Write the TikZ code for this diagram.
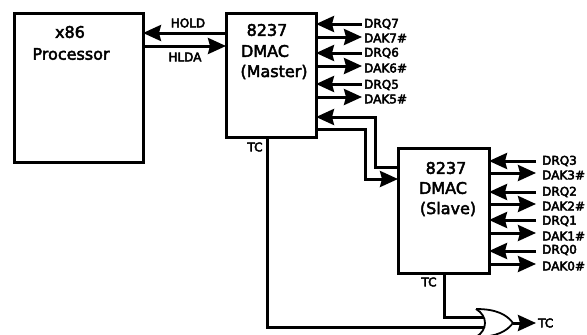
\documentclass[tikz,border=0pt]{standalone}
\usepackage{fontspec}
\setmainfont{DejaVu Sans}
\usetikzlibrary{arrows.meta}
\newcommand{\heavy}[1]{\special{pdf:code 2 Tr 0.45 w}#1\special{pdf:code 0 Tr}}
\tikzset{
  x=1pt,y=-1pt,
  blk/.style={draw=black,line width=3pt,fill=white},
  sig/.style={line width=3pt,-{Stealth[length=18pt,width=16pt,inset=2pt]}},
  wire/.style={line width=3pt},
  big/.style={font=\fontsize{16}{16}\selectfont,inner sep=0},
  small/.style={font=\fontsize{12}{12}\selectfont,inner sep=0,anchor=west},
  mid/.style={font=\fontsize{12}{12}\selectfont,inner sep=0},
}
\begin{document}
\begin{tikzpicture}
\useasboundingbox (0,0) rectangle (587,335);
% boxes
\draw[blk] (14,13) rectangle (143,162);
\draw[blk] (226,13) rectangle (316,137);
\draw[blk] (398,148) rectangle (489,273);
\coordinate (pH) at (143,33); \coordinate (mH) at (226,33);
\coordinate (pL) at (143,46); \coordinate (mL) at (226,46);
% box texts
\node[big] (t1) at (70,32) {\heavy{x86}};
\node[big] (t2) at (71,54) {\heavy{Processor}};
\node[big] (t3) at (267,30) {\heavy{8237}};
\node[big] (t4) at (265,51) {\heavy{DMAC}};
\node[big] (t5) at (274,72) {\heavy{(Master)}};
\node[big] (t6) at (446,168) {\heavy{8237}};
\node[big] (t7) at (443,188) {\heavy{DMAC}};
\node[big] (t8) at (448,209) {\heavy{(Slave)}};
% hold / hlda
\draw[sig] (mH) -- (pH);
\draw[sig] (pL) -- (mL);
\node[mid] (hold) at (188,23) {\heavy{HOLD}};
\node[mid] (hlda) at (185,57) {\heavy{HLDA}};
% master signals
\foreach \n/\y/\d/\q/\a/\qy/\ay in {7/24/37/DRQ7/DAK7\#/24/38,6/53/66/DRQ6/DAK6\#/53/68,5/84/97/DRQ5/DAK5\#/85/99}{
  \coordinate (mi\n) at (316,\y); \coordinate (mo\n) at (316,\d);
  \coordinate (li\n) at (362,\y); \coordinate (lo\n) at (362,\d);
  \draw[sig] (li\n) -- (mi\n);
  \draw[sig] (mo\n) -- (lo\n);
  \node[small] (ql\n) at (364,\qy) {\heavy{\q}};
  \node[small] (al\n) at (364,\ay) {\heavy{\a}};
}
% slave signals
\foreach \n/\y/\d/\q/\a/\qy/\ay in {3/161/173/DRQ3/DAK3\#/161/175,2/192/204/DRQ2/DAK2\#/192/206,1/220/233/DRQ1/DAK1\#/221/236,0/251/264/DRQ0/DAK0\#/250/266}{
  \coordinate (si\n) at (489,\y); \coordinate (so\n) at (489,\d);
  \coordinate (ri\n) at (536,\y); \coordinate (ro\n) at (536,\d);
  \draw[sig] (ri\n) -- (si\n);
  \draw[sig] (so\n) -- (ro\n);
  \node[small] (qr\n) at (542,\qy) {\heavy{\q}};
  \node[small] (ar\n) at (542,\ay) {\heavy{\a}};
}
% cascade
\coordinate (c1a) at (398,167); \coordinate (c1b) at (316,117);
\draw[sig] (c1a) -- (375,167) -- (375,117) -- (c1b);
\coordinate (c2a) at (316,129); \coordinate (c2b) at (398,179);
\draw[sig] (c2a) -- (365,129) -- (365,179) -- (c2b);
% TC
\coordinate (mT) at (267,137); \coordinate (sT) at (444,273);
\coordinate (g1) at (484,317); \coordinate (g2) at (484,327);
\draw[wire] (mT) -- (267,327) -- (g2);
\draw[wire] (sT) -- (444,317) -- (g1);
\node[mid] (tc1) at (255,147) {\heavy{TC}};
\node[mid] (tc2) at (429,282) {\heavy{TC}};
% OR gate
\begin{scope}
\clip (0,0) rectangle (587,335);
\draw[line width=1.8pt] (476,309) .. controls (497,309) and (507,315) .. (513,323)
  .. controls (507,331) and (497,337) .. (476,337)
  .. controls (488,330) and (488,316) .. (476,309);
\end{scope}
\coordinate (gout) at (513,323); \coordinate (tcout) at (536,323);
\draw[sig] (gout) -- (tcout);
\node[small] (tc3) at (538,323) {\heavy{TC}};
\end{tikzpicture}
\end{document}
